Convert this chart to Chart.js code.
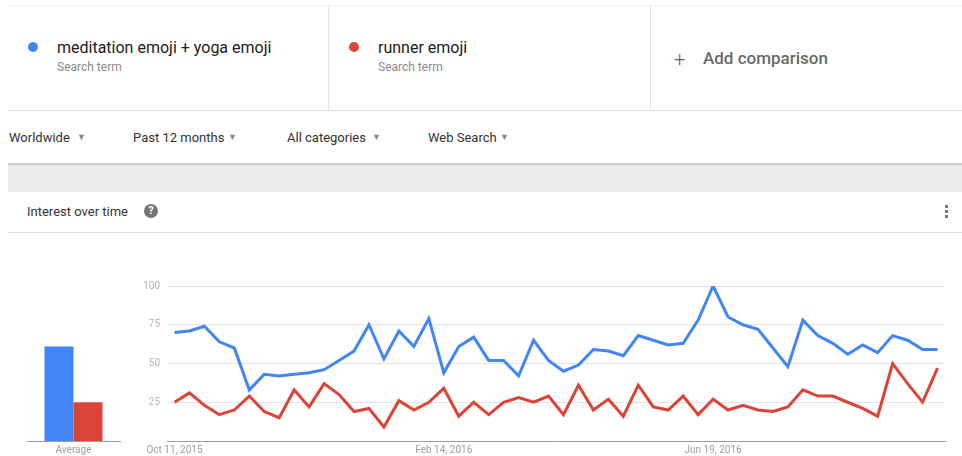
<!DOCTYPE html>
<html>
<head>
<meta charset="utf-8">
<script src="https://cdn.jsdelivr.net/npm/chart.js@4.4.1/dist/chart.umd.min.js"></script>
<style>
  body { margin: 0; width: 962px; height: 456px; background: #fff; font-family: Roboto, "Noto Sans", sans-serif; position: relative; overflow: hidden; }
  .abs { position: absolute; white-space: nowrap; }
  .term { font-size: 16px; color: #212121; }
  .sub { font-size: 12px; color: #8a8a8a; }
  .dot { width: 10px; height: 10px; border-radius: 50%; }
  .flt { font-size: 13px; color: #333; }
  .arr { font-size: 9px; color: #888; }
  .hline { position: absolute; height: 1px; background: #e0e0e0; }
  .vline { position: absolute; width: 1px; background: #e4e4e4; }
  canvas { position: absolute; }
</style>
</head>
<body>
<div class="hline" style="left:8px;top:5px;width:954px;background:#f0f0f0"></div>
<div class="vline" style="left:328px;top:5px;height:105px"></div>
<div class="vline" style="left:650px;top:5px;height:105px"></div>
<div class="hline" style="left:8px;top:110px;width:954px"></div>

<div class="abs dot" style="left:28px;top:42px;background:#4285f4"></div>
<div class="abs term" style="left:57px;top:38px">meditation emoji + yoga emoji</div>
<div class="abs sub" style="left:57px;top:60px">Search term</div>
<div class="abs dot" style="left:349px;top:42px;background:#db4437"></div>
<div class="abs term" style="left:378px;top:38px">runner emoji</div>
<div class="abs sub" style="left:378px;top:60px">Search term</div>
<div class="abs" style="left:674px;top:47px;font-size:20px;color:#666;font-weight:300">+</div>
<div class="abs" style="left:703px;top:48px;font-size:17px;color:#6a6a6a;font-weight:500">Add comparison</div>

<div class="abs flt" style="left:9px;top:130px">Worldwide</div>
<div class="abs arr" style="left:77px;top:132px">&#9660;</div>
<div class="abs flt" style="left:133px;top:130px">Past 12 months</div>
<div class="abs arr" style="left:228px;top:132px">&#9660;</div>
<div class="abs flt" style="left:287px;top:130px">All categories</div>
<div class="abs arr" style="left:372px;top:132px">&#9660;</div>
<div class="abs flt" style="left:428px;top:130px">Web Search</div>
<div class="abs arr" style="left:500px;top:132px">&#9660;</div>

<div class="abs" style="left:8px;top:163px;width:954px;height:29px;background:#ebebeb;border-top:2px solid #cfcfcf;box-sizing:border-box"></div>
<div class="abs flt" style="left:27px;top:204px">Interest over time</div>
<div class="abs" style="left:144px;top:204px;width:14px;height:14px;border-radius:50%;background:#757575;color:#fff;font-size:11px;font-weight:bold;text-align:center;line-height:14px">?</div>
<div class="abs" style="left:945px;top:205px;width:3px;height:3px;background:#777"></div>
<div class="abs" style="left:945px;top:210px;width:3px;height:3px;background:#777"></div>
<div class="abs" style="left:945px;top:215px;width:3px;height:3px;background:#777"></div>
<div class="hline" style="left:8px;top:232px;width:954px"></div>

<canvas id="avgChart" style="left:0;top:270px;width:130px;height:186px" width="130" height="186"></canvas>
<canvas id="lineChart" style="left:130px;top:270px;width:832px;height:186px" width="832" height="186"></canvas>

<script>
// weekly points, Oct 11 2015 .. Oct 2 2016
const weeks = [];
const start = new Date(2015, 9, 11);
const monthNames = ['Jan','Feb','Mar','Apr','May','Jun','Jul','Aug','Sep','Oct','Nov','Dec'];
for (let i = 0; i < 52; i++) {
    const d = new Date(start.getFullYear(), start.getMonth(), start.getDate() + i * 7);
    weeks.push(monthNames[d.getMonth()] + ' ' + d.getDate() + ', ' + d.getFullYear());
}
const shownLabels = ['Oct 11, 2015', 'Feb 14, 2016', 'Jun 19, 2016'];

const meditationYoga = [70, 71, 74, 64, 60, 33, 43, 42, 43, 44, 46, 52, 58, 75, 53, 71,
    61, 79, 44, 61, 67, 52, 52, 42, 65, 52, 45, 49, 59, 58, 55, 68,
    65, 62, 63, 78, 100, 80, 75, 72, 60, 48, 78, 68, 63, 56, 62, 57,
    68, 65, 59, 59];
const runner = [25, 31, 23, 17, 20, 29, 19, 15, 33, 22, 37, 30, 19, 21, 9, 26,
    20, 25, 34, 16, 25, 17, 25, 28, 25, 29, 17, 36, 20, 27, 16, 36,
    22, 20, 29, 17, 27, 20, 23, 20, 19, 22, 33, 29, 29, 25, 21, 16,
    50, 37, 25, 47];
const averageLabels = ['Average'];
const averageMeditation = [61];
const averageRunner = [25];
const yTicks = [25, 50, 75, 100];

const BLUE = '#4285f4';
const RED = '#db4437';
const tickFont = { family: 'Roboto', size: 10 };

new Chart(document.getElementById('lineChart'), {
    type: 'line',
    data: {
        labels: weeks,
        datasets: [
            { data: meditationYoga, borderColor: BLUE, borderWidth: 3, pointRadius: 0, tension: 0 },
            { data: runner, borderColor: RED, borderWidth: 3, pointRadius: 0, tension: 0 }
        ]
    },
    options: {
        responsive: false,
        animation: false,
        layout: { padding: { top: 16, right: 17, left: 0, bottom: 0 } },
        plugins: { legend: { display: false }, tooltip: { enabled: false } },
        scales: {
            x: {
                offset: true,
                afterFit: (s) => { s.height = 15; },
                grid: { display: false, drawTicks: false },
                border: { display: true, color: '#9e9e9e', width: 1 },
                ticks: {
                    autoSkip: false, maxRotation: 0, padding: 3, color: '#9e9e9e', font: tickFont,
                    callback: function (v) {
                        const l = this.getLabelForValue(v);
                        return shownLabels.includes(l) ? l : '';
                    }
                }
            },
            y: {
                min: 0, max: 100,
                afterFit: (s) => { s.width = 37; },
                afterBuildTicks: (s) => { s.ticks = [0].concat(yTicks).map(v => ({ value: v })); },
                border: { display: false },
                grid: {
                    drawTicks: false,
                    color: (c) => c.tick && c.tick.value === 0 ? 'rgba(0,0,0,0)' : '#e3e3e3'
                },
                ticks: {
                    padding: 7, color: '#b5b5b5', font: tickFont,
                    callback: (v) => v === 0 ? '' : v
                }
            }
        }
    }
});

new Chart(document.getElementById('avgChart'), {
    type: 'bar',
    data: {
        labels: averageLabels,
        datasets: [
            { data: averageMeditation, backgroundColor: BLUE, barPercentage: 1, categoryPercentage: 0.624 },
            { data: averageRunner, backgroundColor: RED, barPercentage: 1, categoryPercentage: 0.624 }
        ]
    },
    options: {
        responsive: false,
        animation: false,
        layout: { padding: { top: 16, right: 10, left: 27, bottom: 0 } },
        plugins: { legend: { display: false }, tooltip: { enabled: false } },
        scales: {
            x: {
                afterFit: (s) => { s.height = 15; },
                grid: { display: false, drawTicks: false },
                border: { display: true, color: '#9e9e9e', width: 1 },
                ticks: { padding: 3, color: '#9e9e9e', font: tickFont }
            },
            y: { display: false, min: 0, max: 100 }
        }
    }
});
</script>
</body>
</html>
